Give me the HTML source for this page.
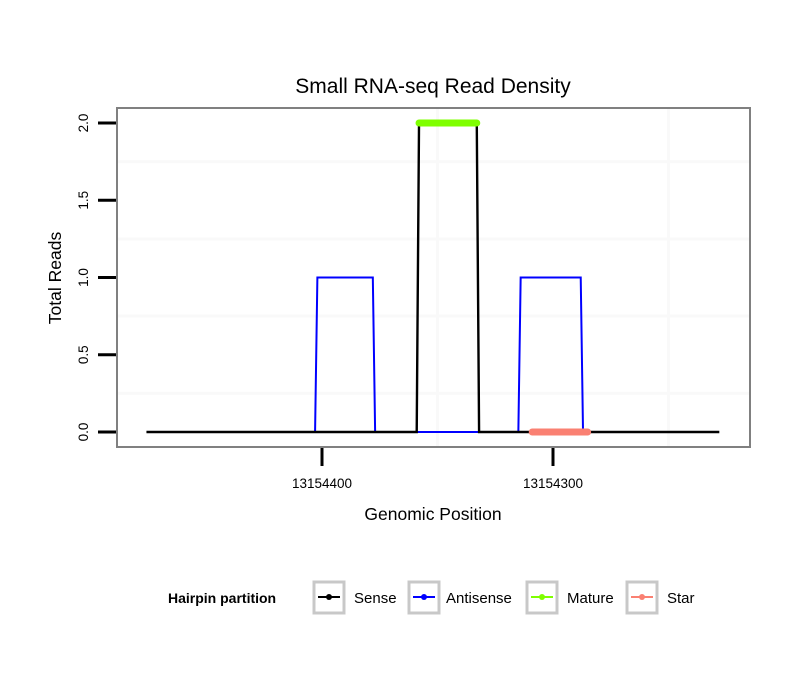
<!DOCTYPE html>
<html><head><meta charset="utf-8"><style>
body{margin:0;background:#fff;font-family:"Liberation Sans",sans-serif}
</style></head><body>
<svg width="810" height="690" xmlns="http://www.w3.org/2000/svg" font-family="Liberation Sans, sans-serif">
<rect width="810" height="690" fill="#fff"/>
<text x="433" y="93" font-size="21" text-anchor="middle">Small RNA-seq Read Density</text>
<g id="grid"></g>
<g id="marks"></g>
<rect x="117" y="108" width="633" height="339" fill="none" stroke="#808080" stroke-width="2"/>
<g id="axes"></g>
<text x="433" y="520" font-size="17.5" text-anchor="middle">Genomic Position</text>
<text transform="translate(61,278) rotate(-90)" font-size="17.5" text-anchor="middle">Total Reads</text>
<g>
<text x="168" y="603" font-size="14" font-weight="bold">Hairpin partition</text>
<g><rect x="314" y="582" width="30" height="31" fill="#fff" stroke="#c8c8c8" stroke-width="3"/><line x1="318" y1="597" x2="340" y2="597" stroke="#000" stroke-width="2"/><circle cx="329" cy="597" r="3" fill="#000"/><text x="354" y="603" font-size="15">Sense</text></g>
<g><rect x="409" y="582" width="30" height="31" fill="#fff" stroke="#c8c8c8" stroke-width="3"/><line x1="413" y1="597" x2="435" y2="597" stroke="#00f" stroke-width="2"/><circle cx="424" cy="597" r="3" fill="#00f"/><text x="446" y="603" font-size="15">Antisense</text></g>
<g><rect x="527" y="582" width="30" height="31" fill="#fff" stroke="#c8c8c8" stroke-width="3"/><line x1="531" y1="597" x2="553" y2="597" stroke="#7fff00" stroke-width="2"/><circle cx="542" cy="597" r="3" fill="#7fff00"/><text x="567" y="603" font-size="15">Mature</text></g>
<g><rect x="627" y="582" width="30" height="31" fill="#fff" stroke="#c8c8c8" stroke-width="3"/><line x1="631" y1="597" x2="653" y2="597" stroke="#fa8072" stroke-width="2"/><circle cx="642" cy="597" r="3" fill="#fa8072"/><text x="667" y="603" font-size="15">Star</text></g>
</g>
</svg>
<script>
const xTicks=[13154400,13154300];
const xMinorTicks=[13154350,13154250];
const yTicks=[0,0.5,1,1.5,2];
const yTickLabels=["0.0","0.5","1.0","1.5","2.0"];
const yMinorTicks=[0.25,0.75,1.25,1.75];
const senseX=[13154476,13154359,13154358,13154333,13154332,13154228];
const senseY=[0,0,2,2,0,0];
const antisenseX=[13154403,13154402,13154378,13154377,13154359,13154358,13154333,13154332,13154315,13154314,13154288,13154287];
const antisenseY=[0,1,1,0,0,0,0,0,0,1,1,0];
const matureX=[13154358,13154333];const matureY=[2,2];
const starX=[13154309,13154285];const starY=[0,0];

const NS="http://www.w3.org/2000/svg";
const xs=p=>322-(p-13154400)*2.31;
const ys=v=>432-v*154.5;
function mk(tag,attrs,parent){const e=document.createElementNS(NS,tag);for(const k in attrs)e.setAttribute(k,attrs[k]);parent.appendChild(e);return e;}
const grid=document.getElementById('grid'),marks=document.getElementById('marks'),axes=document.getElementById('axes');
yMinorTicks.forEach(v=>{const l=mk('line',{x1:118,x2:749,y1:ys(v),y2:ys(v),stroke:'#f9f9f9','stroke-width':3},grid);

});
xMinorTicks.forEach(p=>{const l=mk('line',{x1:xs(p),x2:xs(p),y1:109,y2:446,stroke:'#f9f9f9','stroke-width':3},grid);

});
function series(X,Y,color,w,name,cap){const pts=X.map((x,i)=>xs(x)+','+ys(Y[i])).join(' ');
const l=mk('polyline',{points:pts,fill:'none',stroke:color,'stroke-width':w,'stroke-linecap':cap,'stroke-linejoin':'miter'},marks);

}
series(antisenseX,antisenseY,'#0000ff',2,'antisense-line','butt');
series(senseX,senseY,'#000000',2.4,'sense-line','butt');
series(matureX,matureY,'#7fff00',7,'mature-segment','round');
series(starX,starY,'#fa8072',7,'star-segment','round');
yTicks.forEach((v,i)=>{const t=mk('line',{x1:98,x2:116,y1:ys(v),y2:ys(v),stroke:'#000','stroke-width':3},axes);


const tx=mk('text',{transform:`translate(88,${ys(v)}) rotate(-90)`,'font-size':13.5,'text-anchor':'middle'},axes);tx.textContent=yTickLabels[i];

});
xTicks.forEach(p=>{const t=mk('line',{x1:xs(p),x2:xs(p),y1:448,y2:466,stroke:'#000','stroke-width':3},axes);


const tx=mk('text',{x:xs(p),y:488,'font-size':13.5,'text-anchor':'middle'},axes);tx.textContent=String(p);

});
</script>
</body></html>
